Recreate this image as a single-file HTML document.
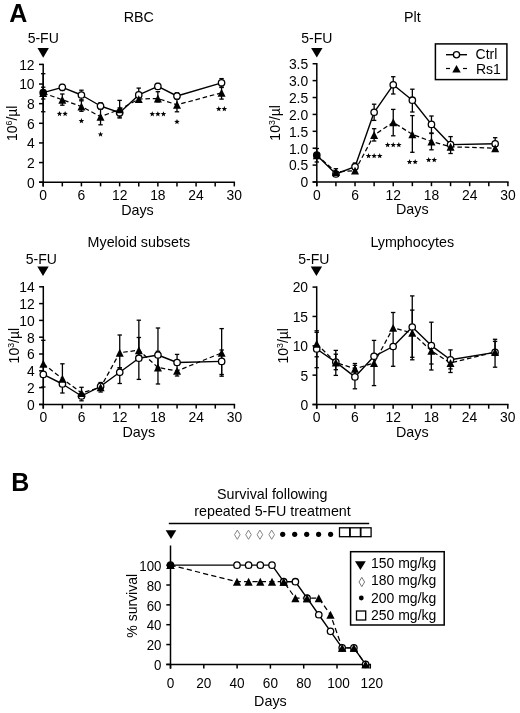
<!DOCTYPE html>
<html><head><meta charset="utf-8"><style>
html,body{margin:0;padding:0;background:#fff;width:520px;height:713px;overflow:hidden}
svg{filter:grayscale(1)}
text{font-family:"Liberation Sans", sans-serif}
</style></head><body>
<svg width="520" height="713" viewBox="0 0 520 713" style="display:block">
<g font-family='"Liberation Sans", sans-serif' fill="#000">
<text x="9.30" y="22.00" font-size="25" text-anchor="start" font-weight="bold" >A</text>
<text x="11.20" y="490.60" font-size="25" text-anchor="start" font-weight="bold" >B</text>
<text x="138.75" y="21.60" font-size="14.3" text-anchor="middle" font-weight="normal" >RBC</text>
<text x="43.20" y="42.50" font-size="14" text-anchor="middle" font-weight="normal" >5-FU</text>
<polygon points="37.50,48.10 48.90,48.10 43.20,57.70" fill="#000"/>
<line x1="43.20" y1="63.65" x2="43.20" y2="186.40" stroke="#000" stroke-width="1.5" stroke-linecap="butt"/>
<line x1="39.00" y1="182.20" x2="43.20" y2="182.20" stroke="#000" stroke-width="1.5" stroke-linecap="butt"/>
<text transform="translate(34.60,187.56) scale(1,1.035)" font-size="13.9" text-anchor="end">0</text>
<line x1="39.00" y1="162.57" x2="43.20" y2="162.57" stroke="#000" stroke-width="1.5" stroke-linecap="butt"/>
<text transform="translate(34.60,167.93) scale(1,1.035)" font-size="13.9" text-anchor="end">2</text>
<line x1="39.00" y1="142.93" x2="43.20" y2="142.93" stroke="#000" stroke-width="1.5" stroke-linecap="butt"/>
<text transform="translate(34.60,148.30) scale(1,1.035)" font-size="13.9" text-anchor="end">4</text>
<line x1="39.00" y1="123.30" x2="43.20" y2="123.30" stroke="#000" stroke-width="1.5" stroke-linecap="butt"/>
<text transform="translate(34.60,128.66) scale(1,1.035)" font-size="13.9" text-anchor="end">6</text>
<line x1="39.00" y1="103.66" x2="43.20" y2="103.66" stroke="#000" stroke-width="1.5" stroke-linecap="butt"/>
<text transform="translate(34.60,109.03) scale(1,1.035)" font-size="13.9" text-anchor="end">8</text>
<line x1="39.00" y1="84.03" x2="43.20" y2="84.03" stroke="#000" stroke-width="1.5" stroke-linecap="butt"/>
<text transform="translate(34.60,89.39) scale(1,1.035)" font-size="13.9" text-anchor="end">10</text>
<line x1="39.00" y1="64.40" x2="43.20" y2="64.40" stroke="#000" stroke-width="1.5" stroke-linecap="butt"/>
<text transform="translate(34.60,69.76) scale(1,1.035)" font-size="13.9" text-anchor="end">12</text>
<line x1="39.00" y1="182.20" x2="235.05" y2="182.20" stroke="#000" stroke-width="1.5" stroke-linecap="butt"/>
<line x1="43.20" y1="182.20" x2="43.20" y2="186.40" stroke="#000" stroke-width="1.5" stroke-linecap="butt"/>
<text transform="translate(43.20,199.76) scale(1,1.035)" font-size="13.9" text-anchor="middle">0</text>
<line x1="62.31" y1="182.20" x2="62.31" y2="186.40" stroke="#000" stroke-width="1.5" stroke-linecap="butt"/>
<line x1="81.42" y1="182.20" x2="81.42" y2="186.40" stroke="#000" stroke-width="1.5" stroke-linecap="butt"/>
<text transform="translate(81.42,199.76) scale(1,1.035)" font-size="13.9" text-anchor="middle">6</text>
<line x1="100.53" y1="182.20" x2="100.53" y2="186.40" stroke="#000" stroke-width="1.5" stroke-linecap="butt"/>
<line x1="119.64" y1="182.20" x2="119.64" y2="186.40" stroke="#000" stroke-width="1.5" stroke-linecap="butt"/>
<text transform="translate(119.64,199.76) scale(1,1.035)" font-size="13.9" text-anchor="middle">12</text>
<line x1="138.75" y1="182.20" x2="138.75" y2="186.40" stroke="#000" stroke-width="1.5" stroke-linecap="butt"/>
<line x1="157.86" y1="182.20" x2="157.86" y2="186.40" stroke="#000" stroke-width="1.5" stroke-linecap="butt"/>
<text transform="translate(157.86,199.76) scale(1,1.035)" font-size="13.9" text-anchor="middle">18</text>
<line x1="176.97" y1="182.20" x2="176.97" y2="186.40" stroke="#000" stroke-width="1.5" stroke-linecap="butt"/>
<line x1="196.08" y1="182.20" x2="196.08" y2="186.40" stroke="#000" stroke-width="1.5" stroke-linecap="butt"/>
<text transform="translate(196.08,199.76) scale(1,1.035)" font-size="13.9" text-anchor="middle">24</text>
<line x1="215.19" y1="182.20" x2="215.19" y2="186.40" stroke="#000" stroke-width="1.5" stroke-linecap="butt"/>
<line x1="234.30" y1="182.20" x2="234.30" y2="186.40" stroke="#000" stroke-width="1.5" stroke-linecap="butt"/>
<text transform="translate(234.30,199.76) scale(1,1.035)" font-size="13.9" text-anchor="middle">30</text>
<text x="137.45" y="214.60" font-size="14.3" text-anchor="middle" font-weight="normal" >Days</text>
<text transform="translate(16.90,123.30) rotate(-90)" font-size="14" text-anchor="middle">10<tspan font-size="8.8" dy="-5.0">6</tspan><tspan dy="5.0">/µl</tspan></text>
<line x1="43.20" y1="73.70" x2="43.20" y2="111.75" stroke="#000" stroke-width="1.3" stroke-linecap="butt"/>
<line x1="41.00" y1="73.70" x2="45.40" y2="73.70" stroke="#000" stroke-width="1.3" stroke-linecap="butt"/>
<line x1="41.00" y1="111.75" x2="45.40" y2="111.75" stroke="#000" stroke-width="1.3" stroke-linecap="butt"/>
<line x1="43.20" y1="87.20" x2="43.20" y2="99.00" stroke="#000" stroke-width="1.3" stroke-linecap="butt"/>
<line x1="41.00" y1="87.20" x2="45.40" y2="87.20" stroke="#000" stroke-width="1.3" stroke-linecap="butt"/>
<line x1="41.00" y1="99.00" x2="45.40" y2="99.00" stroke="#000" stroke-width="1.3" stroke-linecap="butt"/>
<line x1="62.31" y1="84.50" x2="62.31" y2="90.50" stroke="#000" stroke-width="1.3" stroke-linecap="butt"/>
<line x1="60.11" y1="84.50" x2="64.51" y2="84.50" stroke="#000" stroke-width="1.3" stroke-linecap="butt"/>
<line x1="60.11" y1="90.50" x2="64.51" y2="90.50" stroke="#000" stroke-width="1.3" stroke-linecap="butt"/>
<line x1="62.31" y1="94.00" x2="62.31" y2="105.20" stroke="#000" stroke-width="1.3" stroke-linecap="butt"/>
<line x1="60.11" y1="94.00" x2="64.51" y2="94.00" stroke="#000" stroke-width="1.3" stroke-linecap="butt"/>
<line x1="60.11" y1="105.20" x2="64.51" y2="105.20" stroke="#000" stroke-width="1.3" stroke-linecap="butt"/>
<line x1="81.42" y1="90.20" x2="81.42" y2="99.80" stroke="#000" stroke-width="1.3" stroke-linecap="butt"/>
<line x1="79.22" y1="90.20" x2="83.62" y2="90.20" stroke="#000" stroke-width="1.3" stroke-linecap="butt"/>
<line x1="79.22" y1="99.80" x2="83.62" y2="99.80" stroke="#000" stroke-width="1.3" stroke-linecap="butt"/>
<line x1="81.42" y1="100.80" x2="81.42" y2="111.30" stroke="#000" stroke-width="1.3" stroke-linecap="butt"/>
<line x1="79.22" y1="100.80" x2="83.62" y2="100.80" stroke="#000" stroke-width="1.3" stroke-linecap="butt"/>
<line x1="79.22" y1="111.30" x2="83.62" y2="111.30" stroke="#000" stroke-width="1.3" stroke-linecap="butt"/>
<line x1="100.53" y1="102.70" x2="100.53" y2="109.30" stroke="#000" stroke-width="1.3" stroke-linecap="butt"/>
<line x1="98.33" y1="102.70" x2="102.73" y2="102.70" stroke="#000" stroke-width="1.3" stroke-linecap="butt"/>
<line x1="98.33" y1="109.30" x2="102.73" y2="109.30" stroke="#000" stroke-width="1.3" stroke-linecap="butt"/>
<line x1="100.53" y1="108.50" x2="100.53" y2="124.80" stroke="#000" stroke-width="1.3" stroke-linecap="butt"/>
<line x1="98.33" y1="108.50" x2="102.73" y2="108.50" stroke="#000" stroke-width="1.3" stroke-linecap="butt"/>
<line x1="98.33" y1="124.80" x2="102.73" y2="124.80" stroke="#000" stroke-width="1.3" stroke-linecap="butt"/>
<line x1="119.64" y1="100.40" x2="119.64" y2="118.00" stroke="#000" stroke-width="1.3" stroke-linecap="butt"/>
<line x1="117.44" y1="100.40" x2="121.84" y2="100.40" stroke="#000" stroke-width="1.3" stroke-linecap="butt"/>
<line x1="117.44" y1="118.00" x2="121.84" y2="118.00" stroke="#000" stroke-width="1.3" stroke-linecap="butt"/>
<line x1="119.64" y1="108.00" x2="119.64" y2="117.00" stroke="#000" stroke-width="1.3" stroke-linecap="butt"/>
<line x1="117.44" y1="108.00" x2="121.84" y2="108.00" stroke="#000" stroke-width="1.3" stroke-linecap="butt"/>
<line x1="117.44" y1="117.00" x2="121.84" y2="117.00" stroke="#000" stroke-width="1.3" stroke-linecap="butt"/>
<line x1="138.75" y1="88.10" x2="138.75" y2="101.70" stroke="#000" stroke-width="1.3" stroke-linecap="butt"/>
<line x1="136.55" y1="88.10" x2="140.95" y2="88.10" stroke="#000" stroke-width="1.3" stroke-linecap="butt"/>
<line x1="136.55" y1="101.70" x2="140.95" y2="101.70" stroke="#000" stroke-width="1.3" stroke-linecap="butt"/>
<line x1="138.75" y1="96.00" x2="138.75" y2="102.00" stroke="#000" stroke-width="1.3" stroke-linecap="butt"/>
<line x1="136.55" y1="96.00" x2="140.95" y2="96.00" stroke="#000" stroke-width="1.3" stroke-linecap="butt"/>
<line x1="136.55" y1="102.00" x2="140.95" y2="102.00" stroke="#000" stroke-width="1.3" stroke-linecap="butt"/>
<line x1="157.86" y1="83.50" x2="157.86" y2="89.30" stroke="#000" stroke-width="1.3" stroke-linecap="butt"/>
<line x1="155.66" y1="83.50" x2="160.06" y2="83.50" stroke="#000" stroke-width="1.3" stroke-linecap="butt"/>
<line x1="155.66" y1="89.30" x2="160.06" y2="89.30" stroke="#000" stroke-width="1.3" stroke-linecap="butt"/>
<line x1="157.86" y1="91.70" x2="157.86" y2="101.90" stroke="#000" stroke-width="1.3" stroke-linecap="butt"/>
<line x1="155.66" y1="91.70" x2="160.06" y2="91.70" stroke="#000" stroke-width="1.3" stroke-linecap="butt"/>
<line x1="155.66" y1="101.90" x2="160.06" y2="101.90" stroke="#000" stroke-width="1.3" stroke-linecap="butt"/>
<line x1="176.97" y1="92.80" x2="176.97" y2="99.20" stroke="#000" stroke-width="1.3" stroke-linecap="butt"/>
<line x1="174.77" y1="92.80" x2="179.17" y2="92.80" stroke="#000" stroke-width="1.3" stroke-linecap="butt"/>
<line x1="174.77" y1="99.20" x2="179.17" y2="99.20" stroke="#000" stroke-width="1.3" stroke-linecap="butt"/>
<line x1="176.97" y1="99.00" x2="176.97" y2="111.80" stroke="#000" stroke-width="1.3" stroke-linecap="butt"/>
<line x1="174.77" y1="99.00" x2="179.17" y2="99.00" stroke="#000" stroke-width="1.3" stroke-linecap="butt"/>
<line x1="174.77" y1="111.80" x2="179.17" y2="111.80" stroke="#000" stroke-width="1.3" stroke-linecap="butt"/>
<line x1="221.56" y1="78.60" x2="221.56" y2="87.00" stroke="#000" stroke-width="1.3" stroke-linecap="butt"/>
<line x1="219.36" y1="78.60" x2="223.76" y2="78.60" stroke="#000" stroke-width="1.3" stroke-linecap="butt"/>
<line x1="219.36" y1="87.00" x2="223.76" y2="87.00" stroke="#000" stroke-width="1.3" stroke-linecap="butt"/>
<line x1="221.56" y1="87.50" x2="221.56" y2="99.10" stroke="#000" stroke-width="1.3" stroke-linecap="butt"/>
<line x1="219.36" y1="87.50" x2="223.76" y2="87.50" stroke="#000" stroke-width="1.3" stroke-linecap="butt"/>
<line x1="219.36" y1="99.10" x2="223.76" y2="99.10" stroke="#000" stroke-width="1.3" stroke-linecap="butt"/>
<polyline points="43.20,93.00 62.31,99.80 81.42,106.50 100.53,116.70 119.64,109.40 138.75,99.10 157.86,98.50 176.97,104.80 221.56,92.80" fill="none" stroke="#000" stroke-width="1.25" stroke-linejoin="round" stroke-dasharray="4.6 2.8"/>
<polyline points="43.20,92.70 62.31,87.30 81.42,95.00 100.53,106.00 119.64,112.70 138.75,94.90 157.86,86.40 176.97,96.00 221.56,82.80" fill="none" stroke="#000" stroke-width="1.4" stroke-linejoin="round"/>
<circle cx="43.20" cy="92.70" r="3.2" fill="#000" stroke="#000" stroke-width="1.3"/>
<circle cx="62.31" cy="87.30" r="3.2" fill="#fff" stroke="#000" stroke-width="1.3"/>
<circle cx="81.42" cy="95.00" r="3.2" fill="#fff" stroke="#000" stroke-width="1.3"/>
<circle cx="100.53" cy="106.00" r="3.2" fill="#fff" stroke="#000" stroke-width="1.3"/>
<circle cx="119.64" cy="112.70" r="3.2" fill="#fff" stroke="#000" stroke-width="1.3"/>
<circle cx="138.75" cy="94.90" r="3.2" fill="#fff" stroke="#000" stroke-width="1.3"/>
<circle cx="157.86" cy="86.40" r="3.2" fill="#fff" stroke="#000" stroke-width="1.3"/>
<circle cx="176.97" cy="96.00" r="3.2" fill="#fff" stroke="#000" stroke-width="1.3"/>
<circle cx="221.56" cy="82.80" r="3.2" fill="#fff" stroke="#000" stroke-width="1.3"/>
<polygon points="39.20,96.95 47.20,96.95 43.20,89.05" fill="#000"/>
<polygon points="58.31,103.75 66.31,103.75 62.31,95.85" fill="#000"/>
<polygon points="77.42,110.45 85.42,110.45 81.42,102.55" fill="#000"/>
<polygon points="96.53,120.65 104.53,120.65 100.53,112.75" fill="#000"/>
<polygon points="115.64,113.35 123.64,113.35 119.64,105.45" fill="#000"/>
<polygon points="134.75,103.05 142.75,103.05 138.75,95.15" fill="#000"/>
<polygon points="153.86,102.45 161.86,102.45 157.86,94.55" fill="#000"/>
<polygon points="172.97,108.75 180.97,108.75 176.97,100.85" fill="#000"/>
<polygon points="217.56,96.75 225.56,96.75 221.56,88.85" fill="#000"/>
<polygon points="59.51,110.90 60.23,112.81 62.27,112.90 60.67,114.18 61.21,116.15 59.51,115.02 57.81,116.15 58.35,114.18 56.75,112.90 58.79,112.81" fill="#000"/>
<polygon points="65.11,110.90 65.83,112.81 67.87,112.90 66.27,114.18 66.81,116.15 65.11,115.02 63.41,116.15 63.95,114.18 62.35,112.90 64.39,112.81" fill="#000"/>
<polygon points="81.42,118.10 82.14,120.01 84.18,120.10 82.58,121.38 83.12,123.35 81.42,122.22 79.72,123.35 80.26,121.38 78.66,120.10 80.70,120.01" fill="#000"/>
<polygon points="100.53,131.50 101.25,133.41 103.29,133.50 101.69,134.78 102.23,136.75 100.53,135.62 98.83,136.75 99.37,134.78 97.77,133.50 99.81,133.41" fill="#000"/>
<polygon points="152.26,111.20 152.98,113.11 155.02,113.20 153.42,114.48 153.96,116.45 152.26,115.32 150.56,116.45 151.10,114.48 149.50,113.20 151.54,113.11" fill="#000"/>
<polygon points="157.86,111.20 158.58,113.11 160.62,113.20 159.02,114.48 159.56,116.45 157.86,115.32 156.16,116.45 156.70,114.48 155.10,113.20 157.14,113.11" fill="#000"/>
<polygon points="163.46,111.20 164.18,113.11 166.22,113.20 164.62,114.48 165.16,116.45 163.46,115.32 161.76,116.45 162.30,114.48 160.70,113.20 162.74,113.11" fill="#000"/>
<polygon points="176.97,118.90 177.69,120.81 179.73,120.90 178.13,122.18 178.67,124.15 176.97,123.02 175.27,124.15 175.81,122.18 174.21,120.90 176.25,120.81" fill="#000"/>
<polygon points="218.76,106.10 219.48,108.01 221.52,108.10 219.92,109.38 220.46,111.35 218.76,110.22 217.06,111.35 217.60,109.38 216.00,108.10 218.04,108.01" fill="#000"/>
<polygon points="224.36,106.10 225.08,108.01 227.12,108.10 225.52,109.38 226.06,111.35 224.36,110.22 222.66,111.35 223.20,109.38 221.60,108.10 223.64,108.01" fill="#000"/>
<text x="412.35" y="21.70" font-size="14.3" text-anchor="middle" font-weight="normal" >Plt</text>
<text x="316.80" y="42.75" font-size="14" text-anchor="middle" font-weight="normal" >5-FU</text>
<polygon points="311.10,48.00 322.50,48.00 316.80,57.60" fill="#000"/>
<line x1="316.80" y1="62.98" x2="316.80" y2="186.20" stroke="#000" stroke-width="1.5" stroke-linecap="butt"/>
<line x1="312.60" y1="182.00" x2="316.80" y2="182.00" stroke="#000" stroke-width="1.5" stroke-linecap="butt"/>
<text transform="translate(308.20,187.36) scale(1,1.035)" font-size="13.9" text-anchor="end">0</text>
<line x1="312.60" y1="165.10" x2="316.80" y2="165.10" stroke="#000" stroke-width="1.5" stroke-linecap="butt"/>
<text transform="translate(308.20,170.47) scale(1,1.035)" font-size="13.9" text-anchor="end">0.5</text>
<line x1="312.60" y1="148.21" x2="316.80" y2="148.21" stroke="#000" stroke-width="1.5" stroke-linecap="butt"/>
<text transform="translate(308.20,153.57) scale(1,1.035)" font-size="13.9" text-anchor="end">1.0</text>
<line x1="312.60" y1="131.31" x2="316.80" y2="131.31" stroke="#000" stroke-width="1.5" stroke-linecap="butt"/>
<text transform="translate(308.20,136.68) scale(1,1.035)" font-size="13.9" text-anchor="end">1.5</text>
<line x1="312.60" y1="114.42" x2="316.80" y2="114.42" stroke="#000" stroke-width="1.5" stroke-linecap="butt"/>
<text transform="translate(308.20,119.78) scale(1,1.035)" font-size="13.9" text-anchor="end">2.0</text>
<line x1="312.60" y1="97.53" x2="316.80" y2="97.53" stroke="#000" stroke-width="1.5" stroke-linecap="butt"/>
<text transform="translate(308.20,102.89) scale(1,1.035)" font-size="13.9" text-anchor="end">2.5</text>
<line x1="312.60" y1="80.63" x2="316.80" y2="80.63" stroke="#000" stroke-width="1.5" stroke-linecap="butt"/>
<text transform="translate(308.20,85.99) scale(1,1.035)" font-size="13.9" text-anchor="end">3.0</text>
<line x1="312.60" y1="63.73" x2="316.80" y2="63.73" stroke="#000" stroke-width="1.5" stroke-linecap="butt"/>
<text transform="translate(308.20,69.10) scale(1,1.035)" font-size="13.9" text-anchor="end">3.5</text>
<line x1="312.60" y1="182.00" x2="508.65" y2="182.00" stroke="#000" stroke-width="1.5" stroke-linecap="butt"/>
<line x1="316.80" y1="182.00" x2="316.80" y2="186.20" stroke="#000" stroke-width="1.5" stroke-linecap="butt"/>
<text transform="translate(316.80,199.56) scale(1,1.035)" font-size="13.9" text-anchor="middle">0</text>
<line x1="335.91" y1="182.00" x2="335.91" y2="186.20" stroke="#000" stroke-width="1.5" stroke-linecap="butt"/>
<line x1="355.02" y1="182.00" x2="355.02" y2="186.20" stroke="#000" stroke-width="1.5" stroke-linecap="butt"/>
<text transform="translate(355.02,199.56) scale(1,1.035)" font-size="13.9" text-anchor="middle">6</text>
<line x1="374.13" y1="182.00" x2="374.13" y2="186.20" stroke="#000" stroke-width="1.5" stroke-linecap="butt"/>
<line x1="393.24" y1="182.00" x2="393.24" y2="186.20" stroke="#000" stroke-width="1.5" stroke-linecap="butt"/>
<text transform="translate(393.24,199.56) scale(1,1.035)" font-size="13.9" text-anchor="middle">12</text>
<line x1="412.35" y1="182.00" x2="412.35" y2="186.20" stroke="#000" stroke-width="1.5" stroke-linecap="butt"/>
<line x1="431.46" y1="182.00" x2="431.46" y2="186.20" stroke="#000" stroke-width="1.5" stroke-linecap="butt"/>
<text transform="translate(431.46,199.56) scale(1,1.035)" font-size="13.9" text-anchor="middle">18</text>
<line x1="450.57" y1="182.00" x2="450.57" y2="186.20" stroke="#000" stroke-width="1.5" stroke-linecap="butt"/>
<line x1="469.68" y1="182.00" x2="469.68" y2="186.20" stroke="#000" stroke-width="1.5" stroke-linecap="butt"/>
<text transform="translate(469.68,199.56) scale(1,1.035)" font-size="13.9" text-anchor="middle">24</text>
<line x1="488.79" y1="182.00" x2="488.79" y2="186.20" stroke="#000" stroke-width="1.5" stroke-linecap="butt"/>
<line x1="507.90" y1="182.00" x2="507.90" y2="186.20" stroke="#000" stroke-width="1.5" stroke-linecap="butt"/>
<text transform="translate(507.90,199.56) scale(1,1.035)" font-size="13.9" text-anchor="middle">30</text>
<text x="412.35" y="214.40" font-size="14.3" text-anchor="middle" font-weight="normal" >Days</text>
<text transform="translate(279.80,122.87) rotate(-90)" font-size="14" text-anchor="middle">10<tspan font-size="8.8" dy="-5.0">3</tspan><tspan dy="5.0">/µl</tspan></text>
<line x1="316.80" y1="148.50" x2="316.80" y2="162.00" stroke="#000" stroke-width="1.3" stroke-linecap="butt"/>
<line x1="314.60" y1="148.50" x2="319.00" y2="148.50" stroke="#000" stroke-width="1.3" stroke-linecap="butt"/>
<line x1="314.60" y1="162.00" x2="319.00" y2="162.00" stroke="#000" stroke-width="1.3" stroke-linecap="butt"/>
<line x1="335.91" y1="168.70" x2="335.91" y2="176.00" stroke="#000" stroke-width="1.3" stroke-linecap="butt"/>
<line x1="333.71" y1="168.70" x2="338.11" y2="168.70" stroke="#000" stroke-width="1.3" stroke-linecap="butt"/>
<line x1="333.71" y1="176.00" x2="338.11" y2="176.00" stroke="#000" stroke-width="1.3" stroke-linecap="butt"/>
<line x1="355.02" y1="163.00" x2="355.02" y2="171.00" stroke="#000" stroke-width="1.3" stroke-linecap="butt"/>
<line x1="352.82" y1="163.00" x2="357.22" y2="163.00" stroke="#000" stroke-width="1.3" stroke-linecap="butt"/>
<line x1="352.82" y1="171.00" x2="357.22" y2="171.00" stroke="#000" stroke-width="1.3" stroke-linecap="butt"/>
<line x1="374.13" y1="104.20" x2="374.13" y2="120.40" stroke="#000" stroke-width="1.3" stroke-linecap="butt"/>
<line x1="371.93" y1="104.20" x2="376.33" y2="104.20" stroke="#000" stroke-width="1.3" stroke-linecap="butt"/>
<line x1="371.93" y1="120.40" x2="376.33" y2="120.40" stroke="#000" stroke-width="1.3" stroke-linecap="butt"/>
<line x1="374.13" y1="128.70" x2="374.13" y2="141.00" stroke="#000" stroke-width="1.3" stroke-linecap="butt"/>
<line x1="371.93" y1="128.70" x2="376.33" y2="128.70" stroke="#000" stroke-width="1.3" stroke-linecap="butt"/>
<line x1="371.93" y1="141.00" x2="376.33" y2="141.00" stroke="#000" stroke-width="1.3" stroke-linecap="butt"/>
<line x1="393.24" y1="76.70" x2="393.24" y2="94.00" stroke="#000" stroke-width="1.3" stroke-linecap="butt"/>
<line x1="391.04" y1="76.70" x2="395.44" y2="76.70" stroke="#000" stroke-width="1.3" stroke-linecap="butt"/>
<line x1="391.04" y1="94.00" x2="395.44" y2="94.00" stroke="#000" stroke-width="1.3" stroke-linecap="butt"/>
<line x1="393.24" y1="109.40" x2="393.24" y2="135.80" stroke="#000" stroke-width="1.3" stroke-linecap="butt"/>
<line x1="391.04" y1="109.40" x2="395.44" y2="109.40" stroke="#000" stroke-width="1.3" stroke-linecap="butt"/>
<line x1="391.04" y1="135.80" x2="395.44" y2="135.80" stroke="#000" stroke-width="1.3" stroke-linecap="butt"/>
<line x1="412.35" y1="89.20" x2="412.35" y2="112.00" stroke="#000" stroke-width="1.3" stroke-linecap="butt"/>
<line x1="410.15" y1="89.20" x2="414.55" y2="89.20" stroke="#000" stroke-width="1.3" stroke-linecap="butt"/>
<line x1="410.15" y1="112.00" x2="414.55" y2="112.00" stroke="#000" stroke-width="1.3" stroke-linecap="butt"/>
<line x1="412.35" y1="115.60" x2="412.35" y2="152.30" stroke="#000" stroke-width="1.3" stroke-linecap="butt"/>
<line x1="410.15" y1="115.60" x2="414.55" y2="115.60" stroke="#000" stroke-width="1.3" stroke-linecap="butt"/>
<line x1="410.15" y1="152.30" x2="414.55" y2="152.30" stroke="#000" stroke-width="1.3" stroke-linecap="butt"/>
<line x1="431.46" y1="116.00" x2="431.46" y2="133.00" stroke="#000" stroke-width="1.3" stroke-linecap="butt"/>
<line x1="429.26" y1="116.00" x2="433.66" y2="116.00" stroke="#000" stroke-width="1.3" stroke-linecap="butt"/>
<line x1="429.26" y1="133.00" x2="433.66" y2="133.00" stroke="#000" stroke-width="1.3" stroke-linecap="butt"/>
<line x1="431.46" y1="133.50" x2="431.46" y2="149.80" stroke="#000" stroke-width="1.3" stroke-linecap="butt"/>
<line x1="429.26" y1="133.50" x2="433.66" y2="133.50" stroke="#000" stroke-width="1.3" stroke-linecap="butt"/>
<line x1="429.26" y1="149.80" x2="433.66" y2="149.80" stroke="#000" stroke-width="1.3" stroke-linecap="butt"/>
<line x1="450.57" y1="136.60" x2="450.57" y2="153.50" stroke="#000" stroke-width="1.3" stroke-linecap="butt"/>
<line x1="448.37" y1="136.60" x2="452.77" y2="136.60" stroke="#000" stroke-width="1.3" stroke-linecap="butt"/>
<line x1="448.37" y1="153.50" x2="452.77" y2="153.50" stroke="#000" stroke-width="1.3" stroke-linecap="butt"/>
<line x1="495.16" y1="137.70" x2="495.16" y2="150.00" stroke="#000" stroke-width="1.3" stroke-linecap="butt"/>
<line x1="492.96" y1="137.70" x2="497.36" y2="137.70" stroke="#000" stroke-width="1.3" stroke-linecap="butt"/>
<line x1="492.96" y1="150.00" x2="497.36" y2="150.00" stroke="#000" stroke-width="1.3" stroke-linecap="butt"/>
<polyline points="316.80,155.20 335.91,172.00 355.02,170.60 374.13,135.00 393.24,122.30 412.35,134.40 431.46,141.50 450.57,146.80 495.16,148.20" fill="none" stroke="#000" stroke-width="1.25" stroke-linejoin="round" stroke-dasharray="4.6 2.8"/>
<polyline points="316.80,155.20 335.91,174.00 355.02,166.70 374.13,112.30 393.24,84.80 412.35,100.20 431.46,124.40 450.57,144.60 495.16,143.80" fill="none" stroke="#000" stroke-width="1.4" stroke-linejoin="round"/>
<circle cx="316.80" cy="155.20" r="3.2" fill="#000" stroke="#000" stroke-width="1.3"/>
<circle cx="335.91" cy="174.00" r="3.2" fill="#fff" stroke="#000" stroke-width="1.3"/>
<circle cx="355.02" cy="166.70" r="3.2" fill="#fff" stroke="#000" stroke-width="1.3"/>
<circle cx="374.13" cy="112.30" r="3.2" fill="#fff" stroke="#000" stroke-width="1.3"/>
<circle cx="393.24" cy="84.80" r="3.2" fill="#fff" stroke="#000" stroke-width="1.3"/>
<circle cx="412.35" cy="100.20" r="3.2" fill="#fff" stroke="#000" stroke-width="1.3"/>
<circle cx="431.46" cy="124.40" r="3.2" fill="#fff" stroke="#000" stroke-width="1.3"/>
<circle cx="450.57" cy="144.60" r="3.2" fill="#fff" stroke="#000" stroke-width="1.3"/>
<circle cx="495.16" cy="143.80" r="3.2" fill="#fff" stroke="#000" stroke-width="1.3"/>
<polygon points="312.80,159.15 320.80,159.15 316.80,151.25" fill="#000"/>
<polygon points="331.91,175.95 339.91,175.95 335.91,168.05" fill="#000"/>
<polygon points="351.02,174.55 359.02,174.55 355.02,166.65" fill="#000"/>
<polygon points="370.13,138.95 378.13,138.95 374.13,131.05" fill="#000"/>
<polygon points="389.24,126.25 397.24,126.25 393.24,118.35" fill="#000"/>
<polygon points="408.35,138.35 416.35,138.35 412.35,130.45" fill="#000"/>
<polygon points="427.46,145.45 435.46,145.45 431.46,137.55" fill="#000"/>
<polygon points="446.57,150.75 454.57,150.75 450.57,142.85" fill="#000"/>
<polygon points="491.16,152.15 499.16,152.15 495.16,144.25" fill="#000"/>
<polygon points="368.53,153.10 369.25,155.01 371.29,155.10 369.69,156.38 370.23,158.35 368.53,157.22 366.83,158.35 367.37,156.38 365.77,155.10 367.81,155.01" fill="#000"/>
<polygon points="374.13,153.10 374.85,155.01 376.89,155.10 375.29,156.38 375.83,158.35 374.13,157.22 372.43,158.35 372.97,156.38 371.37,155.10 373.41,155.01" fill="#000"/>
<polygon points="379.73,153.10 380.45,155.01 382.49,155.10 380.89,156.38 381.43,158.35 379.73,157.22 378.03,158.35 378.57,156.38 376.97,155.10 379.01,155.01" fill="#000"/>
<polygon points="387.64,142.10 388.36,144.01 390.40,144.10 388.80,145.38 389.34,147.35 387.64,146.22 385.94,147.35 386.48,145.38 384.88,144.10 386.92,144.01" fill="#000"/>
<polygon points="393.24,142.10 393.96,144.01 396.00,144.10 394.40,145.38 394.94,147.35 393.24,146.22 391.54,147.35 392.08,145.38 390.48,144.10 392.52,144.01" fill="#000"/>
<polygon points="398.84,142.10 399.56,144.01 401.60,144.10 400.00,145.38 400.54,147.35 398.84,146.22 397.14,147.35 397.68,145.38 396.08,144.10 398.12,144.01" fill="#000"/>
<polygon points="409.55,159.10 410.27,161.01 412.31,161.10 410.71,162.38 411.25,164.35 409.55,163.22 407.85,164.35 408.39,162.38 406.79,161.10 408.83,161.01" fill="#000"/>
<polygon points="415.15,159.10 415.87,161.01 417.91,161.10 416.31,162.38 416.85,164.35 415.15,163.22 413.45,164.35 413.99,162.38 412.39,161.10 414.43,161.01" fill="#000"/>
<polygon points="428.66,157.10 429.38,159.01 431.42,159.10 429.82,160.38 430.36,162.35 428.66,161.22 426.96,162.35 427.50,160.38 425.90,159.10 427.94,159.01" fill="#000"/>
<polygon points="434.26,157.10 434.98,159.01 437.02,159.10 435.42,160.38 435.96,162.35 434.26,161.22 432.56,162.35 433.10,160.38 431.50,159.10 433.54,159.01" fill="#000"/>
<rect x="435.4" y="43.9" width="71.5" height="35.7" fill="#fff" stroke="#000" stroke-width="1.5"/>
<line x1="446.00" y1="54.70" x2="467.00" y2="54.70" stroke="#000" stroke-width="1.4" stroke-linecap="butt"/>
<circle cx="456.50" cy="54.70" r="3.1" fill="#fff" stroke="#000" stroke-width="1.3"/>
<line x1="446.00" y1="68.50" x2="450.00" y2="68.50" stroke="#000" stroke-width="1.2" stroke-linecap="butt"/>
<line x1="463.00" y1="68.50" x2="467.00" y2="68.50" stroke="#000" stroke-width="1.2" stroke-linecap="butt"/>
<polygon points="452.25,72.40 460.75,72.40 456.50,65.00" fill="#000"/>
<text x="475.60" y="58.80" font-size="14" text-anchor="start" font-weight="normal" >Ctrl</text>
<text x="476.00" y="73.50" font-size="14" text-anchor="start" font-weight="normal" >Rs1</text>
<text x="138.85" y="246.90" font-size="14.3" text-anchor="middle" font-weight="normal" >Myeloid subsets</text>
<text x="41.40" y="263.75" font-size="14" text-anchor="middle" font-weight="normal" >5-FU</text>
<polygon points="37.30,266.40 48.70,266.40 43.00,276.00" fill="#000"/>
<line x1="43.30" y1="286.05" x2="43.30" y2="408.60" stroke="#000" stroke-width="1.5" stroke-linecap="butt"/>
<line x1="39.10" y1="404.40" x2="43.30" y2="404.40" stroke="#000" stroke-width="1.5" stroke-linecap="butt"/>
<text transform="translate(34.70,409.76) scale(1,1.035)" font-size="13.9" text-anchor="end">0</text>
<line x1="39.10" y1="387.60" x2="43.30" y2="387.60" stroke="#000" stroke-width="1.5" stroke-linecap="butt"/>
<text transform="translate(34.70,392.96) scale(1,1.035)" font-size="13.9" text-anchor="end">2</text>
<line x1="39.10" y1="370.80" x2="43.30" y2="370.80" stroke="#000" stroke-width="1.5" stroke-linecap="butt"/>
<text transform="translate(34.70,376.16) scale(1,1.035)" font-size="13.9" text-anchor="end">4</text>
<line x1="39.10" y1="354.00" x2="43.30" y2="354.00" stroke="#000" stroke-width="1.5" stroke-linecap="butt"/>
<text transform="translate(34.70,359.36) scale(1,1.035)" font-size="13.9" text-anchor="end">6</text>
<line x1="39.10" y1="337.20" x2="43.30" y2="337.20" stroke="#000" stroke-width="1.5" stroke-linecap="butt"/>
<text transform="translate(34.70,342.56) scale(1,1.035)" font-size="13.9" text-anchor="end">8</text>
<line x1="39.10" y1="320.40" x2="43.30" y2="320.40" stroke="#000" stroke-width="1.5" stroke-linecap="butt"/>
<text transform="translate(34.70,325.76) scale(1,1.035)" font-size="13.9" text-anchor="end">10</text>
<line x1="39.10" y1="303.60" x2="43.30" y2="303.60" stroke="#000" stroke-width="1.5" stroke-linecap="butt"/>
<text transform="translate(34.70,308.96) scale(1,1.035)" font-size="13.9" text-anchor="end">12</text>
<line x1="39.10" y1="286.80" x2="43.30" y2="286.80" stroke="#000" stroke-width="1.5" stroke-linecap="butt"/>
<text transform="translate(34.70,292.16) scale(1,1.035)" font-size="13.9" text-anchor="end">14</text>
<line x1="39.10" y1="404.40" x2="235.15" y2="404.40" stroke="#000" stroke-width="1.5" stroke-linecap="butt"/>
<line x1="43.30" y1="404.40" x2="43.30" y2="408.60" stroke="#000" stroke-width="1.5" stroke-linecap="butt"/>
<text transform="translate(43.30,421.96) scale(1,1.035)" font-size="13.9" text-anchor="middle">0</text>
<line x1="62.41" y1="404.40" x2="62.41" y2="408.60" stroke="#000" stroke-width="1.5" stroke-linecap="butt"/>
<line x1="81.52" y1="404.40" x2="81.52" y2="408.60" stroke="#000" stroke-width="1.5" stroke-linecap="butt"/>
<text transform="translate(81.52,421.96) scale(1,1.035)" font-size="13.9" text-anchor="middle">6</text>
<line x1="100.63" y1="404.40" x2="100.63" y2="408.60" stroke="#000" stroke-width="1.5" stroke-linecap="butt"/>
<line x1="119.74" y1="404.40" x2="119.74" y2="408.60" stroke="#000" stroke-width="1.5" stroke-linecap="butt"/>
<text transform="translate(119.74,421.96) scale(1,1.035)" font-size="13.9" text-anchor="middle">12</text>
<line x1="138.85" y1="404.40" x2="138.85" y2="408.60" stroke="#000" stroke-width="1.5" stroke-linecap="butt"/>
<line x1="157.96" y1="404.40" x2="157.96" y2="408.60" stroke="#000" stroke-width="1.5" stroke-linecap="butt"/>
<text transform="translate(157.96,421.96) scale(1,1.035)" font-size="13.9" text-anchor="middle">18</text>
<line x1="177.07" y1="404.40" x2="177.07" y2="408.60" stroke="#000" stroke-width="1.5" stroke-linecap="butt"/>
<line x1="196.18" y1="404.40" x2="196.18" y2="408.60" stroke="#000" stroke-width="1.5" stroke-linecap="butt"/>
<text transform="translate(196.18,421.96) scale(1,1.035)" font-size="13.9" text-anchor="middle">24</text>
<line x1="215.29" y1="404.40" x2="215.29" y2="408.60" stroke="#000" stroke-width="1.5" stroke-linecap="butt"/>
<line x1="234.40" y1="404.40" x2="234.40" y2="408.60" stroke="#000" stroke-width="1.5" stroke-linecap="butt"/>
<text transform="translate(234.40,421.96) scale(1,1.035)" font-size="13.9" text-anchor="middle">30</text>
<text x="138.85" y="436.80" font-size="14.3" text-anchor="middle" font-weight="normal" >Days</text>
<text transform="translate(18.50,345.60) rotate(-90)" font-size="14" text-anchor="middle">10<tspan font-size="8.8" dy="-5.0">3</tspan><tspan dy="5.0">/µl</tspan></text>
<line x1="43.30" y1="340.30" x2="43.30" y2="387.00" stroke="#000" stroke-width="1.3" stroke-linecap="butt"/>
<line x1="41.10" y1="340.30" x2="45.50" y2="340.30" stroke="#000" stroke-width="1.3" stroke-linecap="butt"/>
<line x1="41.10" y1="387.00" x2="45.50" y2="387.00" stroke="#000" stroke-width="1.3" stroke-linecap="butt"/>
<line x1="62.41" y1="363.80" x2="62.41" y2="393.00" stroke="#000" stroke-width="1.3" stroke-linecap="butt"/>
<line x1="60.21" y1="363.80" x2="64.61" y2="363.80" stroke="#000" stroke-width="1.3" stroke-linecap="butt"/>
<line x1="60.21" y1="393.00" x2="64.61" y2="393.00" stroke="#000" stroke-width="1.3" stroke-linecap="butt"/>
<line x1="81.52" y1="387.30" x2="81.52" y2="400.80" stroke="#000" stroke-width="1.3" stroke-linecap="butt"/>
<line x1="79.32" y1="387.30" x2="83.72" y2="387.30" stroke="#000" stroke-width="1.3" stroke-linecap="butt"/>
<line x1="79.32" y1="400.80" x2="83.72" y2="400.80" stroke="#000" stroke-width="1.3" stroke-linecap="butt"/>
<line x1="100.63" y1="382.50" x2="100.63" y2="392.00" stroke="#000" stroke-width="1.3" stroke-linecap="butt"/>
<line x1="98.43" y1="382.50" x2="102.83" y2="382.50" stroke="#000" stroke-width="1.3" stroke-linecap="butt"/>
<line x1="98.43" y1="392.00" x2="102.83" y2="392.00" stroke="#000" stroke-width="1.3" stroke-linecap="butt"/>
<line x1="119.74" y1="368.00" x2="119.74" y2="383.50" stroke="#000" stroke-width="1.3" stroke-linecap="butt"/>
<line x1="117.54" y1="368.00" x2="121.94" y2="368.00" stroke="#000" stroke-width="1.3" stroke-linecap="butt"/>
<line x1="117.54" y1="383.50" x2="121.94" y2="383.50" stroke="#000" stroke-width="1.3" stroke-linecap="butt"/>
<line x1="119.74" y1="335.00" x2="119.74" y2="367.70" stroke="#000" stroke-width="1.3" stroke-linecap="butt"/>
<line x1="117.54" y1="335.00" x2="121.94" y2="335.00" stroke="#000" stroke-width="1.3" stroke-linecap="butt"/>
<line x1="117.54" y1="367.70" x2="121.94" y2="367.70" stroke="#000" stroke-width="1.3" stroke-linecap="butt"/>
<line x1="138.85" y1="320.20" x2="138.85" y2="379.40" stroke="#000" stroke-width="1.3" stroke-linecap="butt"/>
<line x1="136.65" y1="320.20" x2="141.05" y2="320.20" stroke="#000" stroke-width="1.3" stroke-linecap="butt"/>
<line x1="136.65" y1="379.40" x2="141.05" y2="379.40" stroke="#000" stroke-width="1.3" stroke-linecap="butt"/>
<line x1="138.85" y1="337.50" x2="138.85" y2="358.20" stroke="#000" stroke-width="1.3" stroke-linecap="butt"/>
<line x1="136.65" y1="337.50" x2="141.05" y2="337.50" stroke="#000" stroke-width="1.3" stroke-linecap="butt"/>
<line x1="136.65" y1="358.20" x2="141.05" y2="358.20" stroke="#000" stroke-width="1.3" stroke-linecap="butt"/>
<line x1="157.96" y1="328.00" x2="157.96" y2="384.00" stroke="#000" stroke-width="1.3" stroke-linecap="butt"/>
<line x1="155.76" y1="328.00" x2="160.16" y2="328.00" stroke="#000" stroke-width="1.3" stroke-linecap="butt"/>
<line x1="155.76" y1="384.00" x2="160.16" y2="384.00" stroke="#000" stroke-width="1.3" stroke-linecap="butt"/>
<line x1="157.96" y1="351.30" x2="157.96" y2="367.50" stroke="#000" stroke-width="1.3" stroke-linecap="butt"/>
<line x1="155.76" y1="351.30" x2="160.16" y2="351.30" stroke="#000" stroke-width="1.3" stroke-linecap="butt"/>
<line x1="155.76" y1="367.50" x2="160.16" y2="367.50" stroke="#000" stroke-width="1.3" stroke-linecap="butt"/>
<line x1="177.07" y1="354.40" x2="177.07" y2="376.00" stroke="#000" stroke-width="1.3" stroke-linecap="butt"/>
<line x1="174.87" y1="354.40" x2="179.27" y2="354.40" stroke="#000" stroke-width="1.3" stroke-linecap="butt"/>
<line x1="174.87" y1="376.00" x2="179.27" y2="376.00" stroke="#000" stroke-width="1.3" stroke-linecap="butt"/>
<line x1="221.66" y1="328.60" x2="221.66" y2="374.50" stroke="#000" stroke-width="1.3" stroke-linecap="butt"/>
<line x1="219.46" y1="328.60" x2="223.86" y2="328.60" stroke="#000" stroke-width="1.3" stroke-linecap="butt"/>
<line x1="219.46" y1="374.50" x2="223.86" y2="374.50" stroke="#000" stroke-width="1.3" stroke-linecap="butt"/>
<line x1="221.66" y1="350.00" x2="221.66" y2="376.20" stroke="#000" stroke-width="1.3" stroke-linecap="butt"/>
<line x1="219.46" y1="350.00" x2="223.86" y2="350.00" stroke="#000" stroke-width="1.3" stroke-linecap="butt"/>
<line x1="219.46" y1="376.20" x2="223.86" y2="376.20" stroke="#000" stroke-width="1.3" stroke-linecap="butt"/>
<polyline points="43.30,363.80 62.41,378.70 81.52,393.00 100.63,387.30 119.74,352.70 138.85,350.20 157.96,367.50 177.07,370.90 221.66,352.90" fill="none" stroke="#000" stroke-width="1.25" stroke-linejoin="round" stroke-dasharray="4.6 2.8"/>
<polyline points="43.30,374.40 62.41,384.00 81.52,396.00 100.63,386.30 119.74,372.30 138.85,358.20 157.96,355.00 177.07,362.50 221.66,361.40" fill="none" stroke="#000" stroke-width="1.4" stroke-linejoin="round"/>
<circle cx="43.30" cy="374.40" r="3.2" fill="#fff" stroke="#000" stroke-width="1.3"/>
<circle cx="62.41" cy="384.00" r="3.2" fill="#fff" stroke="#000" stroke-width="1.3"/>
<circle cx="81.52" cy="396.00" r="3.2" fill="#fff" stroke="#000" stroke-width="1.3"/>
<circle cx="100.63" cy="386.30" r="3.2" fill="#fff" stroke="#000" stroke-width="1.3"/>
<circle cx="119.74" cy="372.30" r="3.2" fill="#fff" stroke="#000" stroke-width="1.3"/>
<circle cx="138.85" cy="358.20" r="3.2" fill="#fff" stroke="#000" stroke-width="1.3"/>
<circle cx="157.96" cy="355.00" r="3.2" fill="#fff" stroke="#000" stroke-width="1.3"/>
<circle cx="177.07" cy="362.50" r="3.2" fill="#fff" stroke="#000" stroke-width="1.3"/>
<circle cx="221.66" cy="361.40" r="3.2" fill="#fff" stroke="#000" stroke-width="1.3"/>
<polygon points="39.30,367.75 47.30,367.75 43.30,359.85" fill="#000"/>
<polygon points="58.41,382.65 66.41,382.65 62.41,374.75" fill="#000"/>
<polygon points="77.52,396.95 85.52,396.95 81.52,389.05" fill="#000"/>
<polygon points="96.63,391.25 104.63,391.25 100.63,383.35" fill="#000"/>
<polygon points="115.74,356.65 123.74,356.65 119.74,348.75" fill="#000"/>
<polygon points="134.85,354.15 142.85,354.15 138.85,346.25" fill="#000"/>
<polygon points="153.96,371.45 161.96,371.45 157.96,363.55" fill="#000"/>
<polygon points="173.07,374.85 181.07,374.85 177.07,366.95" fill="#000"/>
<polygon points="217.66,356.85 225.66,356.85 221.66,348.95" fill="#000"/>
<text x="412.25" y="247.00" font-size="14.3" text-anchor="middle" font-weight="normal" >Lymphocytes</text>
<text x="313.80" y="263.75" font-size="14" text-anchor="middle" font-weight="normal" >5-FU</text>
<polygon points="310.70,266.40 322.10,266.40 316.40,276.00" fill="#000"/>
<line x1="316.70" y1="286.35" x2="316.70" y2="408.70" stroke="#000" stroke-width="1.5" stroke-linecap="butt"/>
<line x1="312.50" y1="404.50" x2="316.70" y2="404.50" stroke="#000" stroke-width="1.5" stroke-linecap="butt"/>
<text transform="translate(308.10,409.86) scale(1,1.035)" font-size="13.9" text-anchor="end">0</text>
<line x1="312.50" y1="375.15" x2="316.70" y2="375.15" stroke="#000" stroke-width="1.5" stroke-linecap="butt"/>
<text transform="translate(308.10,380.51) scale(1,1.035)" font-size="13.9" text-anchor="end">5</text>
<line x1="312.50" y1="345.80" x2="316.70" y2="345.80" stroke="#000" stroke-width="1.5" stroke-linecap="butt"/>
<text transform="translate(308.10,351.16) scale(1,1.035)" font-size="13.9" text-anchor="end">10</text>
<line x1="312.50" y1="316.45" x2="316.70" y2="316.45" stroke="#000" stroke-width="1.5" stroke-linecap="butt"/>
<text transform="translate(308.10,321.81) scale(1,1.035)" font-size="13.9" text-anchor="end">15</text>
<line x1="312.50" y1="287.10" x2="316.70" y2="287.10" stroke="#000" stroke-width="1.5" stroke-linecap="butt"/>
<text transform="translate(308.10,292.46) scale(1,1.035)" font-size="13.9" text-anchor="end">20</text>
<line x1="312.50" y1="404.50" x2="508.55" y2="404.50" stroke="#000" stroke-width="1.5" stroke-linecap="butt"/>
<line x1="316.70" y1="404.50" x2="316.70" y2="408.70" stroke="#000" stroke-width="1.5" stroke-linecap="butt"/>
<text transform="translate(316.70,422.06) scale(1,1.035)" font-size="13.9" text-anchor="middle">0</text>
<line x1="335.81" y1="404.50" x2="335.81" y2="408.70" stroke="#000" stroke-width="1.5" stroke-linecap="butt"/>
<line x1="354.92" y1="404.50" x2="354.92" y2="408.70" stroke="#000" stroke-width="1.5" stroke-linecap="butt"/>
<text transform="translate(354.92,422.06) scale(1,1.035)" font-size="13.9" text-anchor="middle">6</text>
<line x1="374.03" y1="404.50" x2="374.03" y2="408.70" stroke="#000" stroke-width="1.5" stroke-linecap="butt"/>
<line x1="393.14" y1="404.50" x2="393.14" y2="408.70" stroke="#000" stroke-width="1.5" stroke-linecap="butt"/>
<text transform="translate(393.14,422.06) scale(1,1.035)" font-size="13.9" text-anchor="middle">12</text>
<line x1="412.25" y1="404.50" x2="412.25" y2="408.70" stroke="#000" stroke-width="1.5" stroke-linecap="butt"/>
<line x1="431.36" y1="404.50" x2="431.36" y2="408.70" stroke="#000" stroke-width="1.5" stroke-linecap="butt"/>
<text transform="translate(431.36,422.06) scale(1,1.035)" font-size="13.9" text-anchor="middle">18</text>
<line x1="450.47" y1="404.50" x2="450.47" y2="408.70" stroke="#000" stroke-width="1.5" stroke-linecap="butt"/>
<line x1="469.58" y1="404.50" x2="469.58" y2="408.70" stroke="#000" stroke-width="1.5" stroke-linecap="butt"/>
<text transform="translate(469.58,422.06) scale(1,1.035)" font-size="13.9" text-anchor="middle">24</text>
<line x1="488.69" y1="404.50" x2="488.69" y2="408.70" stroke="#000" stroke-width="1.5" stroke-linecap="butt"/>
<line x1="507.80" y1="404.50" x2="507.80" y2="408.70" stroke="#000" stroke-width="1.5" stroke-linecap="butt"/>
<text transform="translate(507.80,422.06) scale(1,1.035)" font-size="13.9" text-anchor="middle">30</text>
<text x="412.25" y="436.90" font-size="14.3" text-anchor="middle" font-weight="normal" >Days</text>
<text transform="translate(288.00,345.80) rotate(-90)" font-size="14" text-anchor="middle">10<tspan font-size="8.8" dy="-5.0">3</tspan><tspan dy="5.0">/µl</tspan></text>
<line x1="316.70" y1="330.80" x2="316.70" y2="367.70" stroke="#000" stroke-width="1.3" stroke-linecap="butt"/>
<line x1="314.50" y1="330.80" x2="318.90" y2="330.80" stroke="#000" stroke-width="1.3" stroke-linecap="butt"/>
<line x1="314.50" y1="367.70" x2="318.90" y2="367.70" stroke="#000" stroke-width="1.3" stroke-linecap="butt"/>
<line x1="316.70" y1="332.30" x2="316.70" y2="356.80" stroke="#000" stroke-width="1.3" stroke-linecap="butt"/>
<line x1="314.50" y1="332.30" x2="318.90" y2="332.30" stroke="#000" stroke-width="1.3" stroke-linecap="butt"/>
<line x1="314.50" y1="356.80" x2="318.90" y2="356.80" stroke="#000" stroke-width="1.3" stroke-linecap="butt"/>
<line x1="335.81" y1="350.40" x2="335.81" y2="375.40" stroke="#000" stroke-width="1.3" stroke-linecap="butt"/>
<line x1="333.61" y1="350.40" x2="338.01" y2="350.40" stroke="#000" stroke-width="1.3" stroke-linecap="butt"/>
<line x1="333.61" y1="375.40" x2="338.01" y2="375.40" stroke="#000" stroke-width="1.3" stroke-linecap="butt"/>
<line x1="335.81" y1="354.20" x2="335.81" y2="369.70" stroke="#000" stroke-width="1.3" stroke-linecap="butt"/>
<line x1="333.61" y1="354.20" x2="338.01" y2="354.20" stroke="#000" stroke-width="1.3" stroke-linecap="butt"/>
<line x1="333.61" y1="369.70" x2="338.01" y2="369.70" stroke="#000" stroke-width="1.3" stroke-linecap="butt"/>
<line x1="354.92" y1="363.50" x2="354.92" y2="388.80" stroke="#000" stroke-width="1.3" stroke-linecap="butt"/>
<line x1="352.72" y1="363.50" x2="357.12" y2="363.50" stroke="#000" stroke-width="1.3" stroke-linecap="butt"/>
<line x1="352.72" y1="388.80" x2="357.12" y2="388.80" stroke="#000" stroke-width="1.3" stroke-linecap="butt"/>
<line x1="354.92" y1="365.40" x2="354.92" y2="376.90" stroke="#000" stroke-width="1.3" stroke-linecap="butt"/>
<line x1="352.72" y1="365.40" x2="357.12" y2="365.40" stroke="#000" stroke-width="1.3" stroke-linecap="butt"/>
<line x1="352.72" y1="376.90" x2="357.12" y2="376.90" stroke="#000" stroke-width="1.3" stroke-linecap="butt"/>
<line x1="374.03" y1="340.40" x2="374.03" y2="385.60" stroke="#000" stroke-width="1.3" stroke-linecap="butt"/>
<line x1="371.83" y1="340.40" x2="376.23" y2="340.40" stroke="#000" stroke-width="1.3" stroke-linecap="butt"/>
<line x1="371.83" y1="385.60" x2="376.23" y2="385.60" stroke="#000" stroke-width="1.3" stroke-linecap="butt"/>
<line x1="393.14" y1="312.50" x2="393.14" y2="366.30" stroke="#000" stroke-width="1.3" stroke-linecap="butt"/>
<line x1="390.94" y1="312.50" x2="395.34" y2="312.50" stroke="#000" stroke-width="1.3" stroke-linecap="butt"/>
<line x1="390.94" y1="366.30" x2="395.34" y2="366.30" stroke="#000" stroke-width="1.3" stroke-linecap="butt"/>
<line x1="412.25" y1="295.90" x2="412.25" y2="357.30" stroke="#000" stroke-width="1.3" stroke-linecap="butt"/>
<line x1="410.05" y1="295.90" x2="414.45" y2="295.90" stroke="#000" stroke-width="1.3" stroke-linecap="butt"/>
<line x1="410.05" y1="357.30" x2="414.45" y2="357.30" stroke="#000" stroke-width="1.3" stroke-linecap="butt"/>
<line x1="412.25" y1="310.10" x2="412.25" y2="359.80" stroke="#000" stroke-width="1.3" stroke-linecap="butt"/>
<line x1="410.05" y1="310.10" x2="414.45" y2="310.10" stroke="#000" stroke-width="1.3" stroke-linecap="butt"/>
<line x1="410.05" y1="359.80" x2="414.45" y2="359.80" stroke="#000" stroke-width="1.3" stroke-linecap="butt"/>
<line x1="431.36" y1="322.20" x2="431.36" y2="370.00" stroke="#000" stroke-width="1.3" stroke-linecap="butt"/>
<line x1="429.16" y1="322.20" x2="433.56" y2="322.20" stroke="#000" stroke-width="1.3" stroke-linecap="butt"/>
<line x1="429.16" y1="370.00" x2="433.56" y2="370.00" stroke="#000" stroke-width="1.3" stroke-linecap="butt"/>
<line x1="431.36" y1="345.60" x2="431.36" y2="364.00" stroke="#000" stroke-width="1.3" stroke-linecap="butt"/>
<line x1="429.16" y1="345.60" x2="433.56" y2="345.60" stroke="#000" stroke-width="1.3" stroke-linecap="butt"/>
<line x1="429.16" y1="364.00" x2="433.56" y2="364.00" stroke="#000" stroke-width="1.3" stroke-linecap="butt"/>
<line x1="450.47" y1="349.90" x2="450.47" y2="372.50" stroke="#000" stroke-width="1.3" stroke-linecap="butt"/>
<line x1="448.27" y1="349.90" x2="452.67" y2="349.90" stroke="#000" stroke-width="1.3" stroke-linecap="butt"/>
<line x1="448.27" y1="372.50" x2="452.67" y2="372.50" stroke="#000" stroke-width="1.3" stroke-linecap="butt"/>
<line x1="450.47" y1="359.80" x2="450.47" y2="368.90" stroke="#000" stroke-width="1.3" stroke-linecap="butt"/>
<line x1="448.27" y1="359.80" x2="452.67" y2="359.80" stroke="#000" stroke-width="1.3" stroke-linecap="butt"/>
<line x1="448.27" y1="368.90" x2="452.67" y2="368.90" stroke="#000" stroke-width="1.3" stroke-linecap="butt"/>
<line x1="495.06" y1="339.30" x2="495.06" y2="367.20" stroke="#000" stroke-width="1.3" stroke-linecap="butt"/>
<line x1="492.86" y1="339.30" x2="497.26" y2="339.30" stroke="#000" stroke-width="1.3" stroke-linecap="butt"/>
<line x1="492.86" y1="367.20" x2="497.26" y2="367.20" stroke="#000" stroke-width="1.3" stroke-linecap="butt"/>
<line x1="495.06" y1="341.40" x2="495.06" y2="352.40" stroke="#000" stroke-width="1.3" stroke-linecap="butt"/>
<line x1="492.86" y1="341.40" x2="497.26" y2="341.40" stroke="#000" stroke-width="1.3" stroke-linecap="butt"/>
<line x1="492.86" y1="352.40" x2="497.26" y2="352.40" stroke="#000" stroke-width="1.3" stroke-linecap="butt"/>
<polyline points="316.70,343.80 335.81,362.50 354.92,368.70 374.03,363.10 393.14,327.90 412.25,332.90 431.36,350.90 450.47,363.00 495.06,352.00" fill="none" stroke="#000" stroke-width="1.25" stroke-linejoin="round" stroke-dasharray="4.6 2.8"/>
<polyline points="316.70,349.00 335.81,362.10 354.92,376.90 374.03,356.30 393.14,346.50 412.25,327.00 431.36,345.60 450.47,359.80 495.06,352.40" fill="none" stroke="#000" stroke-width="1.4" stroke-linejoin="round"/>
<circle cx="316.70" cy="349.00" r="3.2" fill="#fff" stroke="#000" stroke-width="1.3"/>
<circle cx="335.81" cy="362.10" r="3.2" fill="#fff" stroke="#000" stroke-width="1.3"/>
<circle cx="354.92" cy="376.90" r="3.2" fill="#fff" stroke="#000" stroke-width="1.3"/>
<circle cx="374.03" cy="356.30" r="3.2" fill="#fff" stroke="#000" stroke-width="1.3"/>
<circle cx="393.14" cy="346.50" r="3.2" fill="#fff" stroke="#000" stroke-width="1.3"/>
<circle cx="412.25" cy="327.00" r="3.2" fill="#fff" stroke="#000" stroke-width="1.3"/>
<circle cx="431.36" cy="345.60" r="3.2" fill="#fff" stroke="#000" stroke-width="1.3"/>
<circle cx="450.47" cy="359.80" r="3.2" fill="#fff" stroke="#000" stroke-width="1.3"/>
<circle cx="495.06" cy="352.40" r="3.2" fill="#fff" stroke="#000" stroke-width="1.3"/>
<polygon points="312.70,347.75 320.70,347.75 316.70,339.85" fill="#000"/>
<polygon points="331.81,366.45 339.81,366.45 335.81,358.55" fill="#000"/>
<polygon points="350.92,372.65 358.92,372.65 354.92,364.75" fill="#000"/>
<polygon points="370.03,367.05 378.03,367.05 374.03,359.15" fill="#000"/>
<polygon points="389.14,331.85 397.14,331.85 393.14,323.95" fill="#000"/>
<polygon points="408.25,336.85 416.25,336.85 412.25,328.95" fill="#000"/>
<polygon points="427.36,354.85 435.36,354.85 431.36,346.95" fill="#000"/>
<polygon points="446.47,366.95 454.47,366.95 450.47,359.05" fill="#000"/>
<polygon points="491.06,355.95 499.06,355.95 495.06,348.05" fill="#000"/>
<text x="272.30" y="498.50" font-size="14.3" text-anchor="middle" font-weight="normal" >Survival following</text>
<text x="272.50" y="515.70" font-size="14.3" text-anchor="middle" font-weight="normal" >repeated 5-FU treatment</text>
<line x1="168.80" y1="523.40" x2="369.20" y2="523.40" stroke="#000" stroke-width="1.5" stroke-linecap="butt"/>
<polygon points="165.70,530.30 176.30,530.30 171.00,538.90" fill="#000"/>
<polygon points="237.30,530.1 240.10,534.7 237.30,539.3 234.50,534.7" fill="#fff" stroke="#777" stroke-width="0.9"/>
<polygon points="248.50,530.1 251.30,534.7 248.50,539.3 245.70,534.7" fill="#fff" stroke="#777" stroke-width="0.9"/>
<polygon points="259.90,530.1 262.70,534.7 259.90,539.3 257.10,534.7" fill="#fff" stroke="#777" stroke-width="0.9"/>
<polygon points="271.70,530.1 274.50,534.7 271.70,539.3 268.90,534.7" fill="#fff" stroke="#777" stroke-width="0.9"/>
<circle cx="282.7" cy="534.3" r="2.6" fill="#000"/>
<circle cx="294.7" cy="534.3" r="2.6" fill="#000"/>
<circle cx="306.7" cy="534.3" r="2.6" fill="#000"/>
<circle cx="318.6" cy="534.3" r="2.6" fill="#000"/>
<circle cx="330.6" cy="534.3" r="2.6" fill="#000"/>
<rect x="339.5" y="527.8" width="10.2" height="8.9" fill="#fff" stroke="#000" stroke-width="1.3"/>
<rect x="350.2" y="527.8" width="10.2" height="8.9" fill="#fff" stroke="#000" stroke-width="1.3"/>
<rect x="360.9" y="527.8" width="10.2" height="8.9" fill="#fff" stroke="#000" stroke-width="1.3"/>
<line x1="170.50" y1="545.50" x2="170.50" y2="668.60" stroke="#000" stroke-width="1.5" stroke-linecap="butt"/>
<line x1="166.30" y1="664.40" x2="371.05" y2="664.40" stroke="#000" stroke-width="1.5" stroke-linecap="butt"/>
<line x1="166.30" y1="664.40" x2="170.50" y2="664.40" stroke="#000" stroke-width="1.5" stroke-linecap="butt"/>
<text transform="translate(161.50,670.15) scale(1,1.035)" font-size="13.3" text-anchor="end">0</text>
<line x1="166.30" y1="644.55" x2="170.50" y2="644.55" stroke="#000" stroke-width="1.5" stroke-linecap="butt"/>
<text transform="translate(161.50,650.30) scale(1,1.035)" font-size="13.3" text-anchor="end">20</text>
<line x1="166.30" y1="624.70" x2="170.50" y2="624.70" stroke="#000" stroke-width="1.5" stroke-linecap="butt"/>
<text transform="translate(161.50,630.45) scale(1,1.035)" font-size="13.3" text-anchor="end">40</text>
<line x1="166.30" y1="604.85" x2="170.50" y2="604.85" stroke="#000" stroke-width="1.5" stroke-linecap="butt"/>
<text transform="translate(161.50,610.60) scale(1,1.035)" font-size="13.3" text-anchor="end">60</text>
<line x1="166.30" y1="585.00" x2="170.50" y2="585.00" stroke="#000" stroke-width="1.5" stroke-linecap="butt"/>
<text transform="translate(161.50,590.75) scale(1,1.035)" font-size="13.3" text-anchor="end">80</text>
<line x1="166.30" y1="565.15" x2="170.50" y2="565.15" stroke="#000" stroke-width="1.5" stroke-linecap="butt"/>
<text transform="translate(161.50,570.90) scale(1,1.035)" font-size="13.3" text-anchor="end">100</text>
<line x1="170.50" y1="664.40" x2="170.50" y2="668.60" stroke="#000" stroke-width="1.5" stroke-linecap="butt"/>
<text transform="translate(170.50,687.56) scale(1,1.035)" font-size="13.6" text-anchor="middle">0</text>
<line x1="203.80" y1="664.40" x2="203.80" y2="668.60" stroke="#000" stroke-width="1.5" stroke-linecap="butt"/>
<text transform="translate(203.80,687.56) scale(1,1.035)" font-size="13.6" text-anchor="middle">20</text>
<line x1="237.10" y1="664.40" x2="237.10" y2="668.60" stroke="#000" stroke-width="1.5" stroke-linecap="butt"/>
<text transform="translate(237.10,687.56) scale(1,1.035)" font-size="13.6" text-anchor="middle">40</text>
<line x1="270.40" y1="664.40" x2="270.40" y2="668.60" stroke="#000" stroke-width="1.5" stroke-linecap="butt"/>
<text transform="translate(270.40,687.56) scale(1,1.035)" font-size="13.6" text-anchor="middle">60</text>
<line x1="303.70" y1="664.40" x2="303.70" y2="668.60" stroke="#000" stroke-width="1.5" stroke-linecap="butt"/>
<text transform="translate(303.70,687.56) scale(1,1.035)" font-size="13.6" text-anchor="middle">80</text>
<line x1="337.00" y1="664.40" x2="337.00" y2="668.60" stroke="#000" stroke-width="1.5" stroke-linecap="butt"/>
<text transform="translate(338.50,687.56) scale(1,1.035)" font-size="13.6" text-anchor="middle">100</text>
<line x1="370.30" y1="664.40" x2="370.30" y2="668.60" stroke="#000" stroke-width="1.5" stroke-linecap="butt"/>
<text transform="translate(371.80,687.56) scale(1,1.035)" font-size="13.6" text-anchor="middle">120</text>
<text x="270.40" y="706.20" font-size="14.3" text-anchor="middle" font-weight="normal" >Days</text>
<text transform="translate(137.2,605.8) rotate(-90)" font-size="14" text-anchor="middle">% survival</text>
<polyline points="170.50,565.15 237.00,581.72 248.60,581.72 260.30,581.72 272.00,581.72 283.70,581.72 295.40,598.20 307.10,598.20 318.80,598.20 330.50,614.77 342.20,647.83 353.90,647.83 365.60,664.40" fill="none" stroke="#000" stroke-width="1.25" stroke-linejoin="round" stroke-dasharray="5.2 3.2"/>
<polyline points="170.50,565.15 237.00,565.15 248.60,565.15 260.30,565.15 272.00,565.15 283.70,581.72 295.40,581.72 307.10,598.20 318.80,614.77 330.50,631.35 342.20,647.83 353.90,647.83 365.60,664.40" fill="none" stroke="#000" stroke-width="1.4" stroke-linejoin="round"/>
<polygon points="166.40,569.10 174.60,569.10 170.50,561.20" fill="#000"/>
<polygon points="232.90,585.67 241.10,585.67 237.00,577.77" fill="#000"/>
<polygon points="244.50,585.67 252.70,585.67 248.60,577.77" fill="#000"/>
<polygon points="256.20,585.67 264.40,585.67 260.30,577.77" fill="#000"/>
<polygon points="267.90,585.67 276.10,585.67 272.00,577.77" fill="#000"/>
<polygon points="279.60,585.67 287.80,585.67 283.70,577.77" fill="#000"/>
<polygon points="291.30,602.15 299.50,602.15 295.40,594.25" fill="#000"/>
<polygon points="303.00,602.15 311.20,602.15 307.10,594.25" fill="#000"/>
<polygon points="314.70,602.15 322.90,602.15 318.80,594.25" fill="#000"/>
<polygon points="326.40,618.73 334.60,618.73 330.50,610.82" fill="#000"/>
<polygon points="338.10,651.78 346.30,651.78 342.20,643.88" fill="#000"/>
<polygon points="349.80,651.78 358.00,651.78 353.90,643.88" fill="#000"/>
<polygon points="361.50,668.35 369.70,668.35 365.60,660.45" fill="#000"/>
<circle cx="170.50" cy="565.15" r="3.2" fill="#000" stroke="#000" stroke-width="1.3"/>
<circle cx="237.00" cy="565.15" r="3.2" fill="#fff" stroke="#000" stroke-width="1.3"/>
<circle cx="248.60" cy="565.15" r="3.2" fill="#fff" stroke="#000" stroke-width="1.3"/>
<circle cx="260.30" cy="565.15" r="3.2" fill="#fff" stroke="#000" stroke-width="1.3"/>
<circle cx="272.00" cy="565.15" r="3.2" fill="#fff" stroke="#000" stroke-width="1.3"/>
<circle cx="283.70" cy="581.72" r="3.2" fill="#fff" stroke="#000" stroke-width="1.3"/>
<circle cx="295.40" cy="581.72" r="3.2" fill="#fff" stroke="#000" stroke-width="1.3"/>
<circle cx="307.10" cy="598.20" r="3.2" fill="#fff" stroke="#000" stroke-width="1.3"/>
<circle cx="318.80" cy="614.77" r="3.2" fill="#fff" stroke="#000" stroke-width="1.3"/>
<circle cx="330.50" cy="631.35" r="3.2" fill="#fff" stroke="#000" stroke-width="1.3"/>
<circle cx="342.20" cy="647.83" r="3.2" fill="#fff" stroke="#000" stroke-width="1.3"/>
<circle cx="353.90" cy="647.83" r="3.2" fill="#fff" stroke="#000" stroke-width="1.3"/>
<circle cx="365.60" cy="664.40" r="3.2" fill="#fff" stroke="#000" stroke-width="1.3"/>
<polygon points="166.40,569.10 174.60,569.10 170.50,561.20" fill="#000"/>
<polygon points="279.60,585.67 287.80,585.67 283.70,577.77" fill="#000"/>
<polygon points="303.00,602.15 311.20,602.15 307.10,594.25" fill="#000"/>
<polygon points="338.10,651.78 346.30,651.78 342.20,643.88" fill="#000"/>
<polygon points="349.80,651.78 358.00,651.78 353.90,643.88" fill="#000"/>
<polygon points="361.50,668.35 369.70,668.35 365.60,660.45" fill="#000"/>
<rect x="350.6" y="551.7" width="93.6" height="73.3" fill="#fff" stroke="#000" stroke-width="1.5"/>
<polygon points="355.00,561.25 365.80,561.25 360.40,569.95" fill="#000"/>
<polygon points="361.8,577.3 364.6,582.0 361.8,586.7 359.0,582.0" fill="#fff" stroke="#666" stroke-width="0.9"/>
<circle cx="361.3" cy="598.0" r="2.4" fill="#000"/>
<rect x="356.5" y="611.0" width="9.2" height="9.0" fill="#fff" stroke="#000" stroke-width="1.3"/>
<text transform="translate(371.0,568.10) scale(1,1.04)" font-size="14">150 mg/kg</text>
<text transform="translate(371.0,585.30) scale(1,1.04)" font-size="14">180 mg/kg</text>
<text transform="translate(371.0,602.50) scale(1,1.04)" font-size="14">200 mg/kg</text>
<text transform="translate(371.0,619.70) scale(1,1.04)" font-size="14">250 mg/kg</text>
</g></svg>
</body></html>
